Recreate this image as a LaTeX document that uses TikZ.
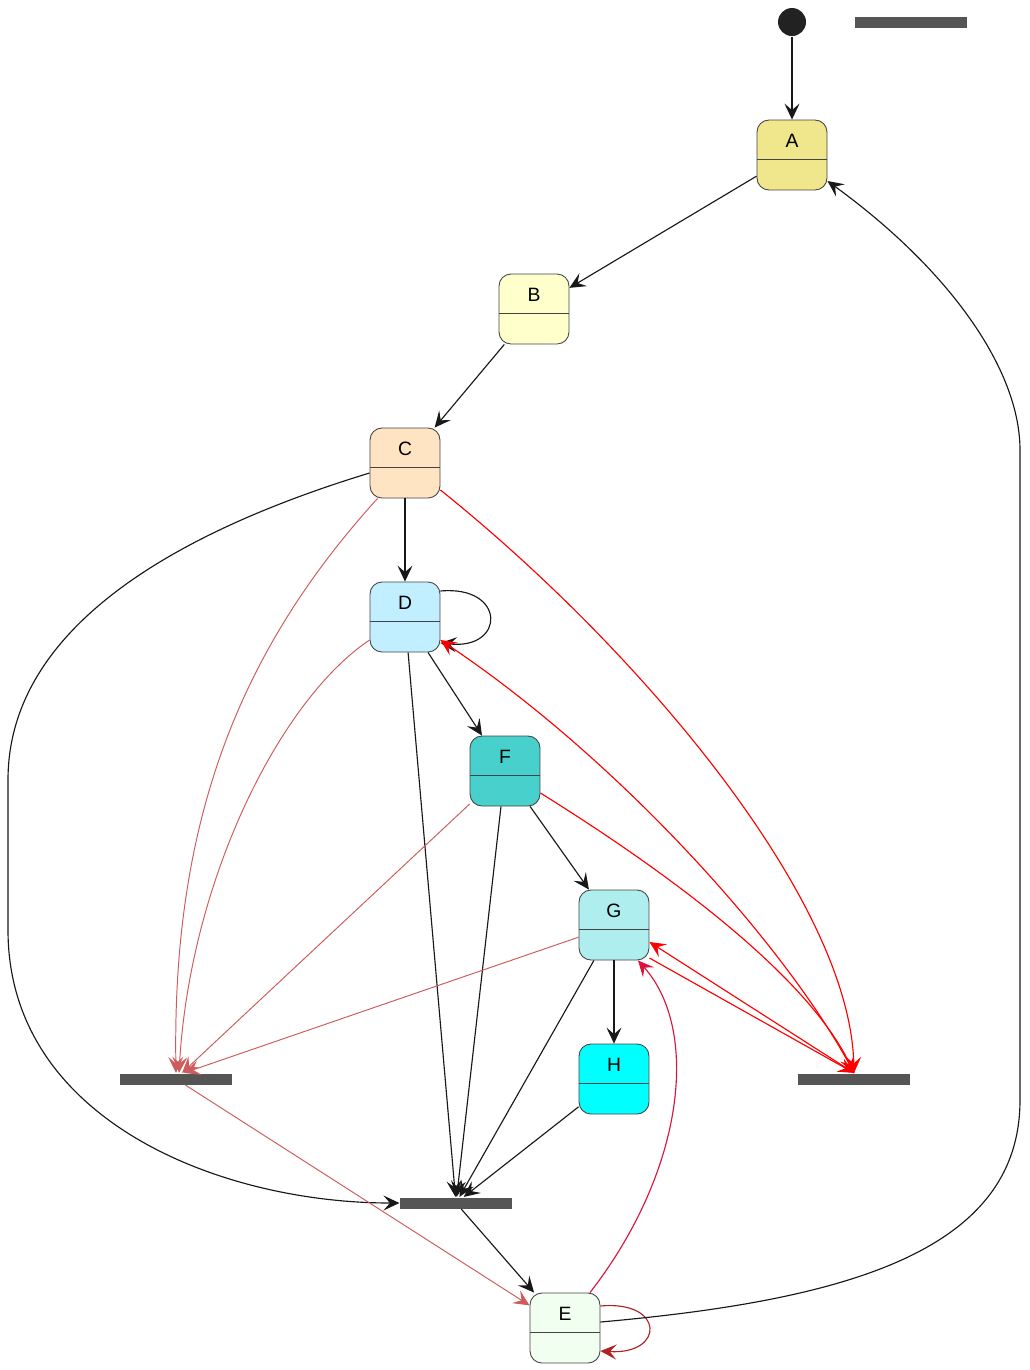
\documentclass[tikz,border=0pt]{standalone}
\usepackage{fontspec}
\setmainfont{Liberation Sans}
\usepackage{xcolor}
\usetikzlibrary{arrows.meta}
\definecolor{boxline}{HTML}{444444}
\definecolor{barfill}{HTML}{555555}
\definecolor{dotfill}{HTML}{222222}
\definecolor{lineblack}{HTML}{181818}
\definecolor{khaki}{HTML}{F0E68C}
\definecolor{lemon}{HTML}{FFFFCC}
\definecolor{bisque}{HTML}{FFE4C4}
\definecolor{skyish}{HTML}{C2EFFF}
\definecolor{medturq}{HTML}{48D1CC}
\definecolor{paleturq}{HTML}{AFEEEE}
\definecolor{aqua}{HTML}{00FFFF}
\definecolor{honeydew}{HTML}{F0FFF0}
\definecolor{indianred}{HTML}{CD5C5C}
\definecolor{crimson}{HTML}{DC143C}
\definecolor{firebrick}{HTML}{B22222}

\begin{document}
\begin{tikzpicture}[x=0.02cm,y=-0.02cm,->,>={Stealth[length=0.32cm,width=0.3cm,inset=0.13cm]},line width=0.65pt]
            \tikzset{statebox/.style={draw=boxline, line width=0.5pt, rounded corners=0.24cm,
                minimum width=1.4cm, minimum height=1.4cm, inner sep=0pt,
                font=\fontsize{11}{13}\selectfont, text height=8pt, text depth=16pt,
                path picture={\draw[-,boxline,line width=0.5pt] ([yshift=-0.08cm]path picture bounding box.west) -- ([yshift=-0.08cm]path picture bounding box.east);}},
              bar/.style={fill=barfill, minimum width=2.24cm, minimum height=0.22cm, inner sep=0pt},
              startdot/.style={circle, fill=dotfill, minimum size=0.56cm, inner sep=0pt},
              plain/.style={draw=lineblack},
              soft/.style={draw=indianred, line width=0.55pt},
              hot/.style={draw=red},
              crim/.style={draw=crimson},
              brick/.style={draw=firebrick}}
            \useasboundingbox (0,0) rectangle (1030,1370);
            \node[startdot] (start) at (792,22) {};
            \node[bar] (topbar) at (911,22.5) {};
            \node[statebox, fill=khaki] (A) at (792,155) {A};
            \node[statebox, fill=lemon] (B) at (534,309) {B};
            \node[statebox, fill=bisque] (C) at (405,463) {C};
            \node[statebox, fill=skyish] (D) at (405,617) {D};
            \node[statebox, fill=medturq] (F) at (505,771) {F};
            \node[statebox, fill=paleturq] (G) at (614,925) {G};
            \node[statebox, fill=aqua] (H) at (614,1079) {H};
            \node[statebox, fill=honeydew] (E) at (565,1328) {E};
            \node[bar] (barL) at (176,1079) {};
            \node[bar] (barM) at (456,1203) {};
            \node[bar] (barR) at (854,1079) {};
            \draw[plain] (start) -- (A);
            \draw[plain] (A) -- (B);
            \draw[plain] (B) -- (C);
            \draw[plain] (C) -- (D);
            \draw[plain] ([yshift=-0.2cm]C.west) .. controls (150,540) and (8,640) .. (8,780) -- (8,930) .. controls (8,1120) and (220,1203) .. (barM.west);
            \draw[soft] ([xshift=0.16cm]C.south west) .. controls (240,650) and (172,820) .. (barL.north);
            \draw[hot] ([yshift=-0.54cm]C.east) .. controls (640,650) and (850,900) .. (barR.north);
            \draw[plain] ([yshift=0.52cm]D.east) .. controls (506,585) and (506,650) .. ([yshift=-0.52cm]D.east);
            \draw[soft] ([yshift=-0.46cm]D.west) .. controls (280,700) and (190,880) .. ([xshift=0.06cm]barL.north);
            \draw[plain] (D) -- (barM);
            \draw[plain] (D) -- (F);
            \draw[hot] (barR.north) .. controls (790,950) and (620,760) .. ([yshift=-0.46cm]D.east);
            \draw[soft] (F) -- ([xshift=0.12cm]barL.north);
            \draw[plain] (F) -- (barM);
            \draw[plain] (F) -- (G);
            \draw[hot] ([yshift=-0.44cm]F.east) .. controls (680,880) and (810,980) .. (barR.north);
            \draw[soft] (G) -- ([xshift=0.16cm]barL.north);
            \draw[plain] (G) -- (barM);
            \draw[plain] (G) -- (H);
            \draw[hot] ([yshift=-0.66cm]G.east) -- (barR.north);
            \draw[hot] (barR.north) -- ([yshift=-0.34cm]G.east);
            \draw[plain] (H) -- (barM);
            \draw[soft] (barL) -- (E);
            \draw[plain] (barM) -- (E);
            \draw[crim] ([xshift=0.5cm]E.north) .. controls (685,1170) and (700,1030) .. ([xshift=0.48cm]G.south);
            \draw[brick] ([yshift=0.44cm]E.east) .. controls (665,1300) and (665,1355) .. ([yshift=-0.46cm]E.east);
            \draw[plain] ([yshift=0.12cm]E.east) .. controls (850,1300) and (1020,1250) .. (1020,1100) -- (1020,450) .. controls (1020,370) and (950,270) .. ([yshift=-0.52cm]A.east);
        \end{tikzpicture}
\end{document}
